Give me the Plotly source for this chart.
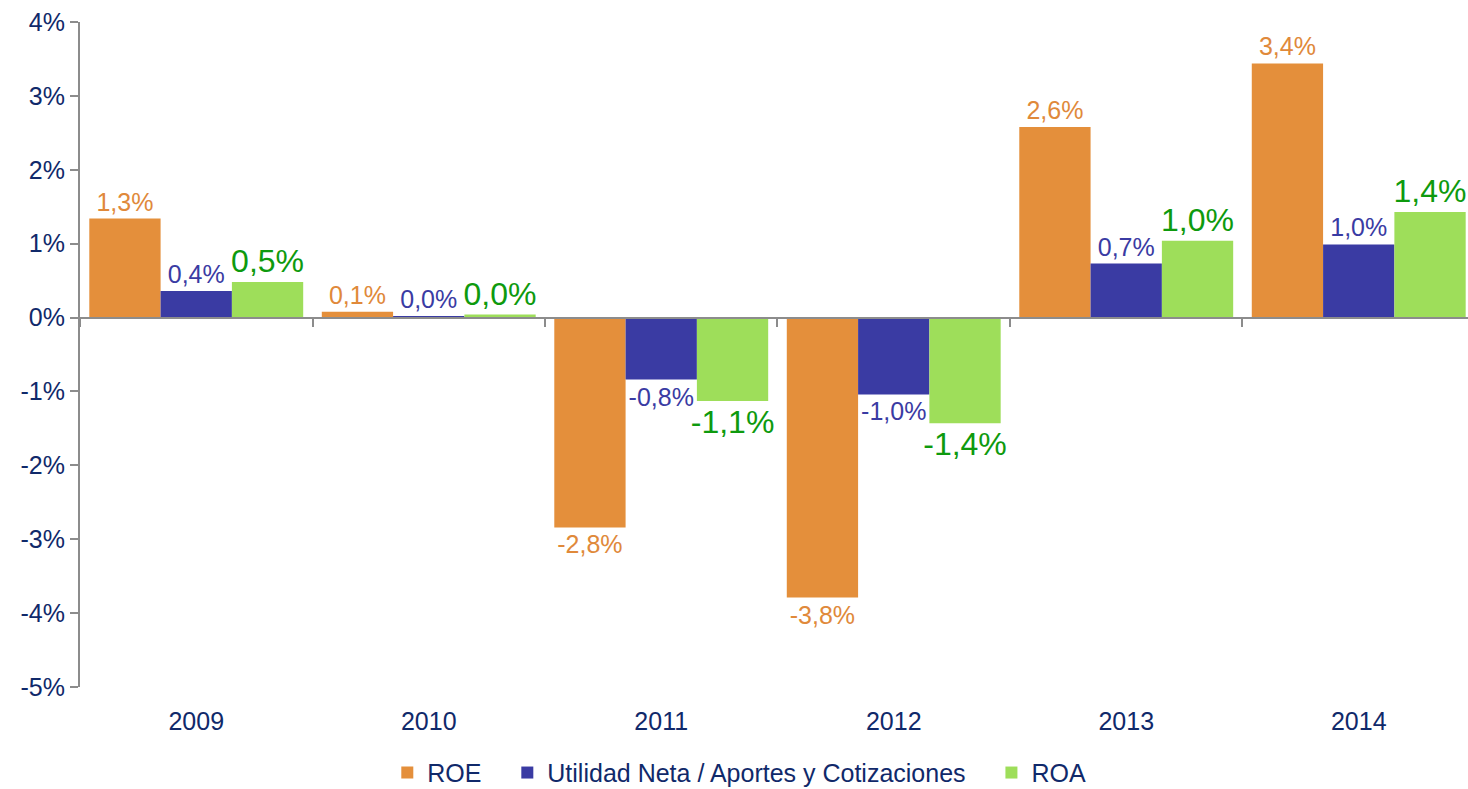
import plotly.graph_objects as go

# Indicadores de rentabilidad (%)
years = ["2009", "2010", "2011", "2012", "2013", "2014"]
roe = [1.34, 0.08, -2.84, -3.79, 2.58, 3.44]
utilidad = [0.36, 0.02, -0.84, -1.04, 0.73, 0.99]
roa = [0.48, 0.04, -1.13, -1.43, 1.04, 1.43]

y_ticks = [4, 3, 2, 1, 0, -1, -2, -3, -4, -5]
y_ticktext = [f"{v}%" for v in y_ticks]

FONT = "Liberation Sans, Arial, sans-serif"
NAVY = "#10296A"
GRAY = "#8C8C8C"
NBSP = "\u00a0"

series = [
    ("ROE" + NBSP * 3, roe, "#E48F3B", "#E0893A", 25),
    ("Utilidad Neta / Aportes y Cotizaciones" + NBSP * 3, utilidad, "#3A3BA3", "#3A3BA3", 25),
    ("ROA", roa, "#9EDE5A", "#0E9A0E", 32),
]

fig = go.Figure()
for name, vals, color, tcolor, tsize in series:
    fig.add_trace(go.Bar(
        x=years, y=vals, name=name,
        # transparent outline widens the gap between bar end and its label
        marker=dict(color=color, line=dict(width=12, color="rgba(0,0,0,0)")),
        texttemplate="%{y:.1f}%",
        textposition="outside",
        constraintext="none",
        cliponaxis=False,
        textfont=dict(family=FONT, size=tsize, color=tcolor),
        hoverinfo="skip",
    ))

# invisible trace carrying the zero-level category axis (line + boundary ticks)
fig.add_trace(go.Scatter(
    x=years, y=roe, xaxis="x2", mode="markers",
    marker=dict(opacity=0), showlegend=False, hoverinfo="skip",
))

x_range = [-0.5, 5.47]
fig.update_layout(
    width=1468, height=789,
    margin=dict(l=80, r=0, t=22, b=102, autoexpand=False),
    plot_bgcolor="white", paper_bgcolor="white",
    separators=",.",
    barmode="group", bargap=0.08, bargroupgap=0,
    font=dict(family=FONT, color=NAVY),
    xaxis=dict(
        type="category", range=x_range, showline=False, ticks="",
        showgrid=False, zeroline=False,
        tickfont=dict(family=FONT, size=25, color=NAVY),
        ticklabelstandoff=17,
    ),
    xaxis2=dict(
        type="category", range=x_range, overlaying="x", anchor="free",
        position=5 / 9, side="bottom",
        showline=True, linecolor=GRAY, linewidth=2,
        ticks="outside", tickson="boundaries", ticklen=8, tickwidth=2,
        tickcolor=GRAY, showticklabels=False, showgrid=False, zeroline=False,
    ),
    yaxis=dict(
        range=[-5, 4], tickmode="array", tickvals=y_ticks, ticktext=y_ticktext,
        showline=True, linecolor=GRAY, linewidth=2,
        ticks="outside", ticklen=8, tickwidth=2, tickcolor=GRAY,
        showgrid=False, zeroline=False,
        tickfont=dict(family=FONT, size=25, color=NAVY),
    ),
    legend=dict(
        orientation="h", x=0.475, xanchor="center", y=-0.129, yanchor="middle",
        font=dict(family=FONT, size=25, color=NAVY),
        traceorder="normal",
    ),
)

fig.write_html("out.html")
